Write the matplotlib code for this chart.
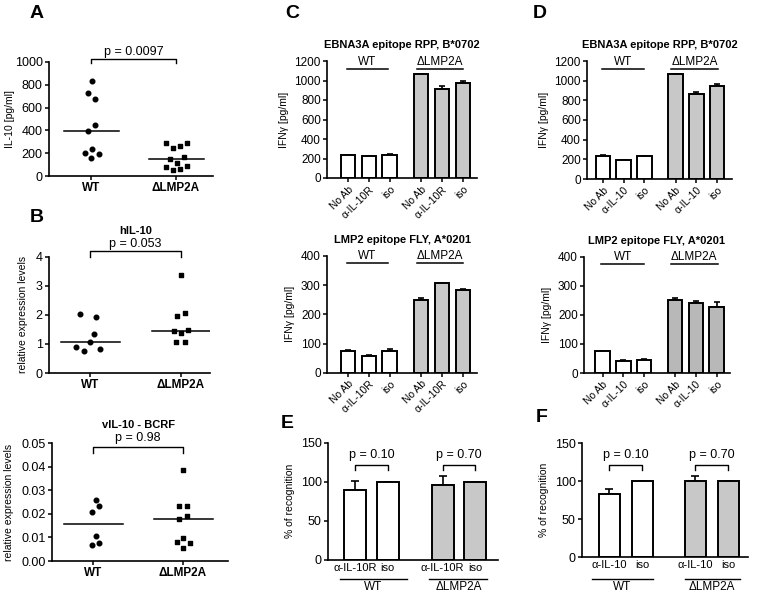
import matplotlib
matplotlib.use("Agg")
import matplotlib.pyplot as plt
import numpy as np

plt.rcParams["font.family"] = ["Liberation Sans", "DejaVu Sans"]

W, H = 757, 595
GRAY = "#c8c8c8"

# --- panel A: IL-10 secretion ---
a_wt = [830, 725, 675, 450, 395, 240, 205, 195, 155]
a_wt_jit = [0.01, -0.04, 0.05, 0.05, -0.04, 0.01, -0.07, 0.09, 0.0]
a_ko = [290, 243, 264, 293, 152, 170, 117, 79, 88, 56, 59]
a_ko_jit = [-0.12, -0.04, 0.05, 0.13, -0.07, 0.09, 0.01, -0.12, 0.13, -0.04, 0.05]
a_med = [395, 152]

# --- panel B: hIL-10 ---
b_wt = [2.03, 1.92, 1.35, 1.05, 0.88, 0.82, 0.74]
b_wt_jit = [-0.11, 0.07, 0.04, 0.0, -0.15, 0.11, -0.07]
b_ko = [3.38, 2.08, 1.96, 1.45, 1.37, 1.48, 1.07, 1.07]
b_ko_jit = [0.0, 0.04, -0.04, -0.08, 0.0, 0.08, -0.05, 0.04]
b_med = [1.07, 1.46]

# --- panel B (lower): vIL-10 ---
v_wt = [0.0258, 0.0233, 0.0208, 0.0108, 0.0078, 0.0067]
v_wt_jit = [0.03, 0.07, -0.01, 0.03, 0.07, -0.01]
v_ko = [0.0385, 0.0234, 0.0231, 0.0191, 0.0176, 0.0099, 0.0082, 0.0078, 0.0055]
v_ko_jit = [0.0, -0.04, 0.04, 0.04, -0.04, 0.0, -0.07, 0.08, 0.0]
v_med = [0.0157, 0.0176]

# --- panels C / D: IFNg bars ---
bar_labels_c = ["No Ab", "α-IL-10R", "iso"] * 2
bar_labels_d = ["No Ab", "α-IL-10", "iso"] * 2
c_top = [236, 222, 232, 1063, 915, 974]
c_top_err = [4, 3, 10, 8, 30, 25]
c_bot = [74, 57, 75, 249, 306, 282]
c_bot_err = [4, 2, 7, 6, 2, 5]
d_top = [236, 190, 230, 1064, 860, 945]
d_top_err = [4, 3, 5, 8, 25, 20]
d_bot = [74, 41, 45, 252, 240, 227]
d_bot_err = [3, 5, 2, 5, 9, 16]

# --- panels E / F: % of recognition ---
e_labels = ["α-IL-10R", "iso", "α-IL-10R", "iso"]
f_labels = ["α-IL-10", "iso", "α-IL-10", "iso"]
e_vals = [89.5, 100, 95.5, 100]
e_err = [11, 0, 12.5, 0]
f_vals = [83, 100, 100, 100]
f_err = [6, 0, 7, 0]


def ax_px(fig, l, t, r, b):
    return fig.add_axes([l / W, 1 - b / H, (r - l) / W, (b - t) / H])


def style(ax, fs=8.5):
    for s in ["top", "right"]:
        ax.spines[s].set_visible(False)
    for s in ["left", "bottom"]:
        ax.spines[s].set_linewidth(1.2)
    ax.tick_params(direction="out", length=3, width=1.1, labelsize=fs, pad=1.5)


def scatter_panel(ax, wt, wtj, ko, koj, med, ylim, yticks, xlim, ylabel, label_x, fmt=None):
    style(ax, fs=9)
    ax.scatter(1 + np.array(wtj), wt, s=11, color="black", marker="o", zorder=3, clip_on=False)
    ax.scatter(2 + np.array(koj), ko, s=12, color="black", marker="s", zorder=3, clip_on=False)
    for x, m in zip([1, 2], med):
        ax.plot([x - 0.32, x + 0.33], [m, m], color="black", lw=1.1)
    ax.set_xlim(*xlim)
    ax.set_ylim(*ylim)
    ax.set_yticks(yticks)
    if fmt:
        ax.set_yticklabels([fmt.format(v) for v in yticks])
    ax.set_xticks([1, 2])
    ax.set_xticklabels(["WT", "ΔLMP2A"], fontweight="bold", fontsize=8.5)
    ax.set_ylabel(ylabel, fontsize=7.5)
    ax.yaxis.set_label_coords(label_x, 0.5)


def bracket(ax, x1, x2, ytop, ybot, text, ytext, fs=8.5):
    ax.plot([x1, x1, x2, x2], [ybot, ytop, ytop, ybot], color="black", lw=1.0, clip_on=False)
    ax.text((x1 + x2) / 2, ytext, text, ha="center", va="center", fontsize=fs)


fig = plt.figure(figsize=(W / 100, H / 100), dpi=100)

# A
ax = ax_px(fig, 49, 62, 213, 176)
scatter_panel(ax, a_wt, a_wt_jit, a_ko, a_ko_jit, a_med, (0, 1000),
              [0, 200, 400, 600, 800, 1000], (0.506, 2.435), "IL-10 [pg/ml]", -0.21)
bracket(ax, 1, 2, 1024, 990, "p = 0.0097", 1090, fs=9)

# B
ax = ax_px(fig, 49, 256.7, 210, 373)
scatter_panel(ax, b_wt, b_wt_jit, b_ko, b_ko_jit, b_med, (0, 4),
              [0, 1, 2, 3, 4], (0.55, 2.32), "relative expression levels", -0.13)
bracket(ax, 1, 2, 4.2, 4.0, "p = 0.053", 4.42, fs=9)
ax.text(1.5, 4.9, "hIL-10", ha="center", va="center", fontsize=8, fontweight="bold")

# B lower
ax = ax_px(fig, 52, 443, 228, 561)
scatter_panel(ax, v_wt, v_wt_jit, v_ko, v_ko_jit, v_med, (0, 0.05),
              [0, 0.01, 0.02, 0.03, 0.04, 0.05], (0.544, 2.5),
              "relative expression levels", -0.215, fmt="{:.2f}")
bracket(ax, 1, 2, 0.0484, 0.0458, "p = 0.98", 0.0521, fs=9)
ax.text(1.5, 0.0577, "vIL-10 - BCRF", ha="center", va="center", fontsize=8, fontweight="bold")

# C / D bars
pos6 = np.array([0, 1, 2, 3.5, 4.5, 5.5])


def ifn_panel(ax, vals, errs, labels, ylim, yticks, xlim, title, wt_txt_y, wt_line_y,
              wt_span, ko_span, gray=GRAY):
    style(ax, fs=8.5)
    cols = ["white"] * 3 + [gray] * 3
    ax.bar(pos6, vals, width=0.7, color=cols, edgecolor="black", linewidth=1.4, zorder=2)
    ax.errorbar(pos6, vals, yerr=[np.zeros(6), errs], fmt="none", ecolor="black",
                elinewidth=1.2, capsize=2.5, capthick=1.2, zorder=1)
    ax.set_xlim(*xlim)
    ax.set_ylim(*ylim)
    ax.set_yticks(yticks)
    ax.set_xticks(pos6)
    ax.set_xticklabels(labels, rotation=45, ha="right", va="top", rotation_mode="anchor",
                       fontsize=7.5)
    ax.set_ylabel("IFNγ [pg/ml]", fontsize=7.5, labelpad=4)
    ax.set_title(title, fontsize=8, fontweight="bold", pad=9)
    for (x1, x2), t in zip([wt_span, ko_span], ["WT", "ΔLMP2A"]):
        ax.plot([x1, x2], [wt_line_y, wt_line_y], color="black", lw=1.1, clip_on=False)
        ax.text((x1 + x2) / 2, wt_txt_y, t, ha="center", va="bottom", fontsize=8.5)


ax = ax_px(fig, 327, 61, 477, 178)
ifn_panel(ax, c_top, c_top_err, bar_labels_c, (0, 1200), [0, 200, 400, 600, 800, 1000, 1200],
          (-1.0, 6.17), "EBNA3A epitope RPP, B*0702", 1128, 1118, (-0.05, 1.91), (3.3, 5.5))
ax = ax_px(fig, 327, 256, 477, 372.7)
ifn_panel(ax, c_bot, c_bot_err, bar_labels_c, (0, 400), [0, 100, 200, 300, 400],
          (-1.0, 6.17), "LMP2 epitope FLY, A*0201", 379, 376, (-0.05, 1.91), (3.3, 5.5))
ax = ax_px(fig, 587, 61, 732, 179)
ifn_panel(ax, d_top, d_top_err, bar_labels_d, (0, 1200), [0, 200, 400, 600, 800, 1000, 1200],
          (-0.77, 6.22), "EBNA3A epitope RPP, B*0702", 1130, 1120, (-0.07, 2.0), (3.3, 5.55))
ax = ax_px(fig, 584, 256.7, 730, 373)
ifn_panel(ax, d_bot, d_bot_err, bar_labels_d, (0, 400), [0, 100, 200, 300, 400],
          (-0.9, 6.15), "LMP2 epitope FLY, A*0201", 378, 375, (-0.07, 2.0), (3.3, 5.55),
          gray="#b8b8b8")


# E / F
def rec_panel(ax, pos, vals, errs, labels, xlim, width, line_y, txt_y, wt_span, ko_span,
              ptop, pbot, ptxt):
    style(ax, fs=9)
    cols = ["white", "white", GRAY, GRAY]
    ax.bar(pos, vals, width=width, color=cols, edgecolor="black", linewidth=1.4, zorder=2)
    ax.errorbar(pos, vals, yerr=[np.zeros(4), errs], fmt="none", ecolor="black",
                elinewidth=1.2, capsize=3, capthick=1.2, zorder=1)
    ax.set_xlim(*xlim)
    ax.set_ylim(0, 150)
    ax.set_yticks([0, 50, 100, 150])
    ax.set_xticks(pos)
    ax.set_xticklabels(labels, fontsize=8)
    ax.tick_params(axis="x", length=0, pad=2)
    ax.set_ylabel("% of recognition", fontsize=7.5, labelpad=4)
    tr = ax.get_xaxis_transform()
    for (x1, x2), t in zip([wt_span, ko_span], ["WT", "ΔLMP2A"]):
        ax.plot([x1, x2], [line_y, line_y], color="black", lw=1.0, transform=tr, clip_on=False)
        ax.text((x1 + x2) / 2, txt_y, t, ha="center", va="center", fontsize=8.5, transform=tr)
    bracket(ax, pos[0], pos[1], ptop, pbot, "p = 0.10", ptxt, fs=9)
    bracket(ax, pos[2], pos[3], ptop, pbot, "p = 0.70", ptxt, fs=9)


ax = ax_px(fig, 328, 442.7, 498, 560)
rec_panel(ax, np.array([0, 1, 2.7, 3.7]), e_vals, e_err, e_labels, (-0.85, 4.41), 0.68,
          -0.162, -0.23, (-0.48, 1.58), (2.29, 4.08), 121.5, 115, 134)
ax = ax_px(fig, 582, 443, 748, 557)
rec_panel(ax, np.array([0, 1, 2.6, 3.6]), f_vals, f_err, f_labels, (-0.83, 4.2), 0.64,
          -0.19, -0.263, (-0.54, 1.32), (2.29, 3.95), 121, 114.5, 134)

# panel letters
for letter, x, y in [("A", 37, 13), ("B", 37, 217), ("C", 292, 13), ("D", 540, 13),
                     ("E", 287, 423), ("F", 542, 417)]:
    fig.text(x / W, 1 - y / H, letter, fontsize=14, fontweight="bold", ha="center", va="center")

fig.savefig("out.png", dpi=100)
